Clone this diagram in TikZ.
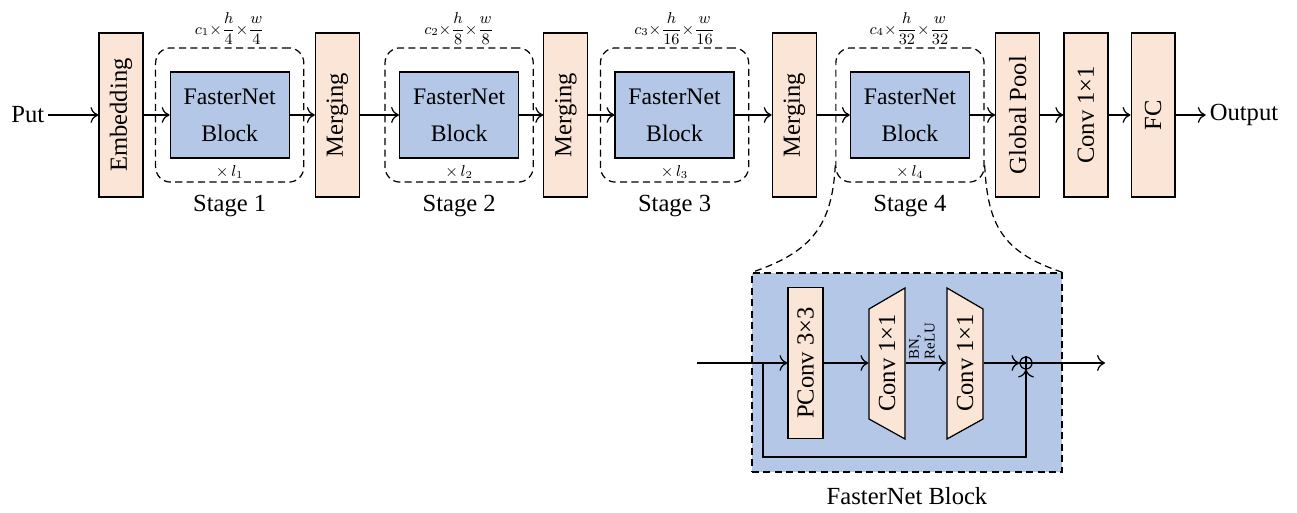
\documentclass[tikz,border=0pt]{standalone}
\usepackage{amsmath}
\usepackage{graphicx}
\usepackage{fontspec}
\setmainfont{Liberation Serif}
\usepackage{xcolor}
\usepackage{tikz}
\usetikzlibrary{positioning,fit,arrows.meta}

\definecolor{peach}{RGB}{251,229,214}
\definecolor{blockblue}{RGB}{180,199,231}

\begin{document}
\begin{tikzpicture}[x=0.02cm, y=0.02cm, >={To[length=4.5pt, width=9pt]}, line width=0.7pt,
  tallbox/.style={draw, fill=peach, minimum width=0.88cm, minimum height=3.28cm, inner sep=0pt, font=\fontsize{14}{16}\selectfont},
  fnblock/.style={draw, fill=blockblue, minimum width=2.38cm, minimum height=1.72cm, align=center, font=\fontsize{13.5}{21}\selectfont},
  dashpat/.style={dash pattern=on 4pt off 2.5pt},
  stagebox/.style={draw, dashpat, rounded corners=0.3cm, inner xsep=0.28cm, inner ysep=0.47cm},
  dimlabel/.style={font=\fontsize{9}{10}\selectfont, inner sep=1pt},
  replabel/.style={font=\fontsize{9}{10}\selectfont, inner sep=1pt},
  bigtext/.style={font=\fontsize{14}{16}\selectfont},
  iolabel/.style={font=\fontsize{14}{16}\selectfont, inner sep=2pt},
  thinbox/.style={draw, fill=peach, minimum width=0.7cm, minimum height=3.02cm, inner sep=0pt, font=\fontsize{14}{16}\selectfont},
  trapnode/.style={minimum width=0.72cm, minimum height=3.02cm, inner sep=0pt, font=\fontsize{14}{16}\selectfont}]
\useasboundingbox (0,0) rectangle (1297,513);

% Backbone, left to right
\node[tallbox] (emb) at (121,398) {\rotatebox{90}{Embedding}};
\node[iolabel, left=1cm of emb] (put) {Put};
\node[fnblock, right=0.52cm of emb] (b1) {FasterNet\\Block};
\node[tallbox, right=0.5cm of b1] (m1) {\rotatebox{90}{Merging}};
\node[fnblock, right=0.78cm of m1] (b2) {FasterNet\\Block};
\node[tallbox, right=0.48cm of b2] (m2) {\rotatebox{90}{Merging}};
\node[fnblock, right=0.52cm of m2] (b3) {FasterNet\\Block};
\node[tallbox, right=0.74cm of b3] (m3) {\rotatebox{90}{Merging}};
\node[fnblock, right=0.66cm of m3] (b4) {FasterNet\\Block};
\node[tallbox, right=0.5cm of b4] (gp) {\rotatebox{90}{Global Pool}};
\node[tallbox, right=0.46cm of gp] (cv) {\rotatebox{90}{Conv 1×1}};
\node[tallbox, right=0.44cm of cv] (fc) {\rotatebox{90}{FC}};
\node[iolabel, right=0.6cm of fc] (out) {Output};

% Stage frames with sizes and repeat counts
\node[stagebox, fit=(b1)] (s1) {};
\node[stagebox, fit=(b2)] (s2) {};
\node[stagebox, fit=(b3)] (s3) {};
\node[stagebox, fit=(b4)] (s4) {};
\node[dimlabel, above=0pt of s1] (d1) {$c_1{\times}\dfrac{h}{4}{\times}\dfrac{w}{4}$};
\node[dimlabel, above=0pt of s2] (d2) {$c_2{\times}\dfrac{h}{8}{\times}\dfrac{w}{8}$};
\node[dimlabel, above=0pt of s3] (d3) {$c_3{\times}\dfrac{h}{16}{\times}\dfrac{w}{16}$};
\node[dimlabel, above=0pt of s4] (d4) {$c_4{\times}\dfrac{h}{32}{\times}\dfrac{w}{32}$};
\node[replabel, above=1pt of s1.south] (r1) {${\times}\,l_1$};
\node[replabel, above=1pt of s2.south] (r2) {${\times}\,l_2$};
\node[replabel, above=1pt of s3.south] (r3) {${\times}\,l_3$};
\node[replabel, above=1pt of s4.south] (r4) {${\times}\,l_4$};
\node[bigtext, below=0.12cm of s1] (st1) {Stage 1};
\node[bigtext, below=0.12cm of s2] (st2) {Stage 2};
\node[bigtext, below=0.12cm of s3] (st3) {Stage 3};
\node[bigtext, below=0.12cm of s4] (st4) {Stage 4};

% Arrows along the backbone
\draw[->] (put) -- (emb);
\draw[->] (emb) -- (b1);
\draw[->] (b1) -- (m1);
\draw[->] (m1) -- (b2);
\draw[->] (b2) -- (m2);
\draw[->] (m2) -- (b3);
\draw[->] (b3) -- (m3);
\draw[->] (m3) -- (b4);
\draw[->] (b4) -- (gp);
\draw[->] (gp) -- (cv);
\draw[->] (cv) -- (fc);
\draw[->] (fc) -- (out);

% Expanded block
\node[draw, dashpat, fill=blockblue, minimum width=6.2cm, minimum height=3.98cm] (blk) at (907,140.5) {};
\node[bigtext, below=0.16cm of blk] (cap) {FasterNet Block};
\draw[dashpat] (s4.214) .. controls +(-3,-60) and +(60,20) .. (blk.north west);
\draw[dashpat] (s4.-34) .. controls +(3,-60) and +(-60,20) .. (blk.north east);

\coordinate (in) at (697,150);
\coordinate (split) at (763,150);
\coordinate (outp) at (1105,150);
\node[thinbox] (pc) at (805.5,150) {\rotatebox{90}{PConv 3×3}};
\draw[fill=peach] (869,94) -- (869,204) -- (905,225) -- (905,74) -- cycle;
\draw[fill=peach] (947,74) -- (947,225) -- (983,204) -- (983,94) -- cycle;
\node[trapnode] (c1) at (887,150) {\rotatebox{90}{Conv 1×1}};
\node[trapnode] (c2) at (965,150) {\rotatebox{90}{Conv 1×1}};
\node[font=\fontsize{8.5}{9}\selectfont, align=left, rotate=90, inner sep=0pt] (act) at (922,172) {BN,\\ReLU};
\node[draw, circle, minimum size=0.24cm, inner sep=0pt] (add) at (1026,150) {};
\draw (add.north) -- (add.south) (add.west) -- (add.east);

\draw[->] (in) -- (pc);
\draw[->] (pc) -- (c1);
\draw[->] (c1) -- (c2);
\draw[->] (c2) -- (add);
\draw[->] (add) -- (outp);
\draw[->] (split) -- ++(0,-94) -| (add);
\end{tikzpicture}
\end{document}
